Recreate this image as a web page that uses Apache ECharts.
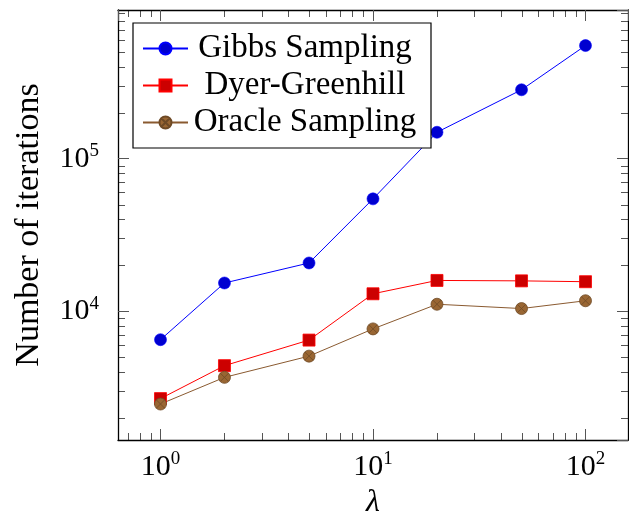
<!DOCTYPE html>
<html>
<head>
<meta charset="utf-8">
<script src="https://cdn.jsdelivr.net/npm/echarts@6/dist/echarts.min.js"></script>
<style>
  html, body { margin: 0; padding: 0; background: #fff; }
  #chart { width: 629px; height: 512px; }
</style>
</head>
<body>
<div id="chart"></div>
<script>
// lambda values (x) and iteration counts
const lambdas = [1, 2, 5, 10, 20, 50, 100]
const gibbs = [6500, 15300, 20700, 54500, 149000, 283000, 552000]
const dyerGreenhill = [2670, 4390, 6460, 13000, 15900, 15800, 15600]
const oracle = [2460, 3680, 5070, 7650, 11100, 10400, 11700]
const seriesNames = ['Gibbs Sampling', 'Dyer-Greenhill', 'Oracle Sampling']

// axis ranges (pgfplots enlarges the log limits by 10%)
const xMin = Math.pow(10, -0.2)
const xMax = Math.pow(10, 2.2)
const yMin = Math.pow(10, 3.155)
const yMax = Math.pow(10, 5.975)

const FONT = 'Liberation Serif'

function pairs(ys) {
  return lambdas.map((x, i) => [x, ys[i]])
}

function powLabel(v) {
  const e = Math.round(Math.log10(v))
  return '{b|10}{s|' + e + '}'
}

const labelRich = {
  b: { fontFamily: FONT, fontSize: 30, lineHeight: 34, color: '#000' },
  s: { fontFamily: FONT, fontSize: 19, lineHeight: 20, verticalAlign: 'top', color: '#000' }
}

function logAxis(min, max, extra) {
  return Object.assign({
    type: 'log',
    logBase: 10,
    min: min,
    max: max,
    axisLine: { show: true, onZero: false, lineStyle: { color: '#000', width: 1.3 } },
    axisTick: { show: true, inside: true, length: 11, lineStyle: { color: '#555', width: 1 } },
    splitLine: { show: false },
    axisLabel: { show: false }
  }, extra)
}

const chart = echarts.init(document.getElementById('chart'), null, { renderer: 'canvas' })

const option = {
  animation: false,
  backgroundColor: '#fff',
  grid: { left: 118, right: 1, top: 10, bottom: 72, containLabel: false, outerBoundsMode: 'none' },
  legend: {
    data: seriesNames,
    orient: 'vertical',
    left: 133,
    top: 23,
    padding: [9, 14, 9, 9],
    itemGap: 4,
    itemWidth: 45,
    itemHeight: 15,
    borderColor: '#000',
    borderWidth: 1.2,
    backgroundColor: '#fff',
    formatter: name => '{c|' + name + '}',
    textStyle: {
      rich: {
        c: { fontFamily: FONT, fontSize: 33, lineHeight: 34, width: 224, align: 'center', color: '#000' }
      }
    }
  },
  xAxis: [
    logAxis(xMin, xMax, {
      position: 'bottom',
      name: 'λ',
      nameLocation: 'middle',
      nameGap: 43,
      nameTextStyle: { fontFamily: FONT, fontSize: 32, fontStyle: 'italic', color: '#000' },
      axisLabel: {
        show: true, margin: 10, showMinLabel: false, showMaxLabel: false,
        formatter: powLabel, rich: labelRich
      }
    }),
    logAxis(xMin, xMax, { position: 'top' })
  ],
  yAxis: [
    logAxis(yMin, yMax, {
      position: 'left',
      name: 'Number of iterations',
      nameLocation: 'middle',
      nameGap: 72,
      nameTextStyle: { fontFamily: FONT, fontSize: 34, color: '#000' },
      axisLabel: {
        show: true, margin: 19, showMinLabel: false, showMaxLabel: false,
        formatter: powLabel, rich: labelRich
      }
    }),
    logAxis(yMin, yMax, { position: 'right' })
  ],
  series: [
    {
      name: seriesNames[0],
      type: 'line',
      data: pairs(gibbs),
      symbol: 'circle',
      symbolSize: 12,
      lineStyle: { color: '#0000ff', width: 1 },
      itemStyle: { color: '#0000d0', borderColor: '#0000ff', borderWidth: 0.6 },
      color: '#0000ff'
    },
    {
      name: seriesNames[1],
      type: 'line',
      data: pairs(dyerGreenhill),
      symbol: 'rect',
      symbolSize: 12,
      lineStyle: { color: '#ff0000', width: 1 },
      itemStyle: { color: '#cc0000', borderColor: '#ff0000', borderWidth: 0.8 },
      color: '#ff0000'
    },
    {
      name: seriesNames[2],
      type: 'line',
      data: pairs(oracle),
      // circle with a cross inside (otimes mark)
      symbol: 'path://M0,10A10,10,0,1,1,20,10A10,10,0,1,1,0,10ZM3,3L17,17M17,3L3,17',
      symbolSize: 12,
      lineStyle: { color: '#8a5a30', width: 1 },
      itemStyle: { color: '#996633', borderColor: '#6e4a26', borderWidth: 0.8 },
      color: '#8a5a30'
    }
  ]
}

chart.setOption(option)

// minor ticks at 2..9 of every decade, drawn on all four sides
function minorValues(min, max) {
  const vals = []
  for (let d = Math.floor(Math.log10(min)); d <= Math.ceil(Math.log10(max)); d++) {
    for (let k = 2; k <= 9; k++) {
      const v = k * Math.pow(10, d)
      if (v > min && v < max) vals.push(v)
    }
  }
  return vals
}

function drawMinorTicks() {
  const left = chart.convertToPixel({ xAxisIndex: 0 }, xMin)
  const right = chart.convertToPixel({ xAxisIndex: 0 }, xMax)
  const bottom = chart.convertToPixel({ yAxisIndex: 0 }, yMin)
  const top = chart.convertToPixel({ yAxisIndex: 0 }, yMax)
  const len = 7
  const style = { stroke: '#555', lineWidth: 1 }
  const lines = []
  minorValues(xMin, xMax).forEach(v => {
    const x = Math.round(chart.convertToPixel({ xAxisIndex: 0 }, v)) + 0.5
    lines.push({ type: 'line', silent: true, shape: { x1: x, y1: bottom, x2: x, y2: bottom - len }, style })
    lines.push({ type: 'line', silent: true, shape: { x1: x, y1: top, x2: x, y2: top + len }, style })
  })
  minorValues(yMin, yMax).forEach(v => {
    const y = Math.round(chart.convertToPixel({ yAxisIndex: 0 }, v)) + 0.5
    lines.push({ type: 'line', silent: true, shape: { x1: left, y1: y, x2: left + len, y2: y }, style })
    lines.push({ type: 'line', silent: true, shape: { x1: right, y1: y, x2: right - len, y2: y }, style })
  })
  chart.setOption({ graphic: lines })
}

drawMinorTicks()
</script>
</body>
</html>
